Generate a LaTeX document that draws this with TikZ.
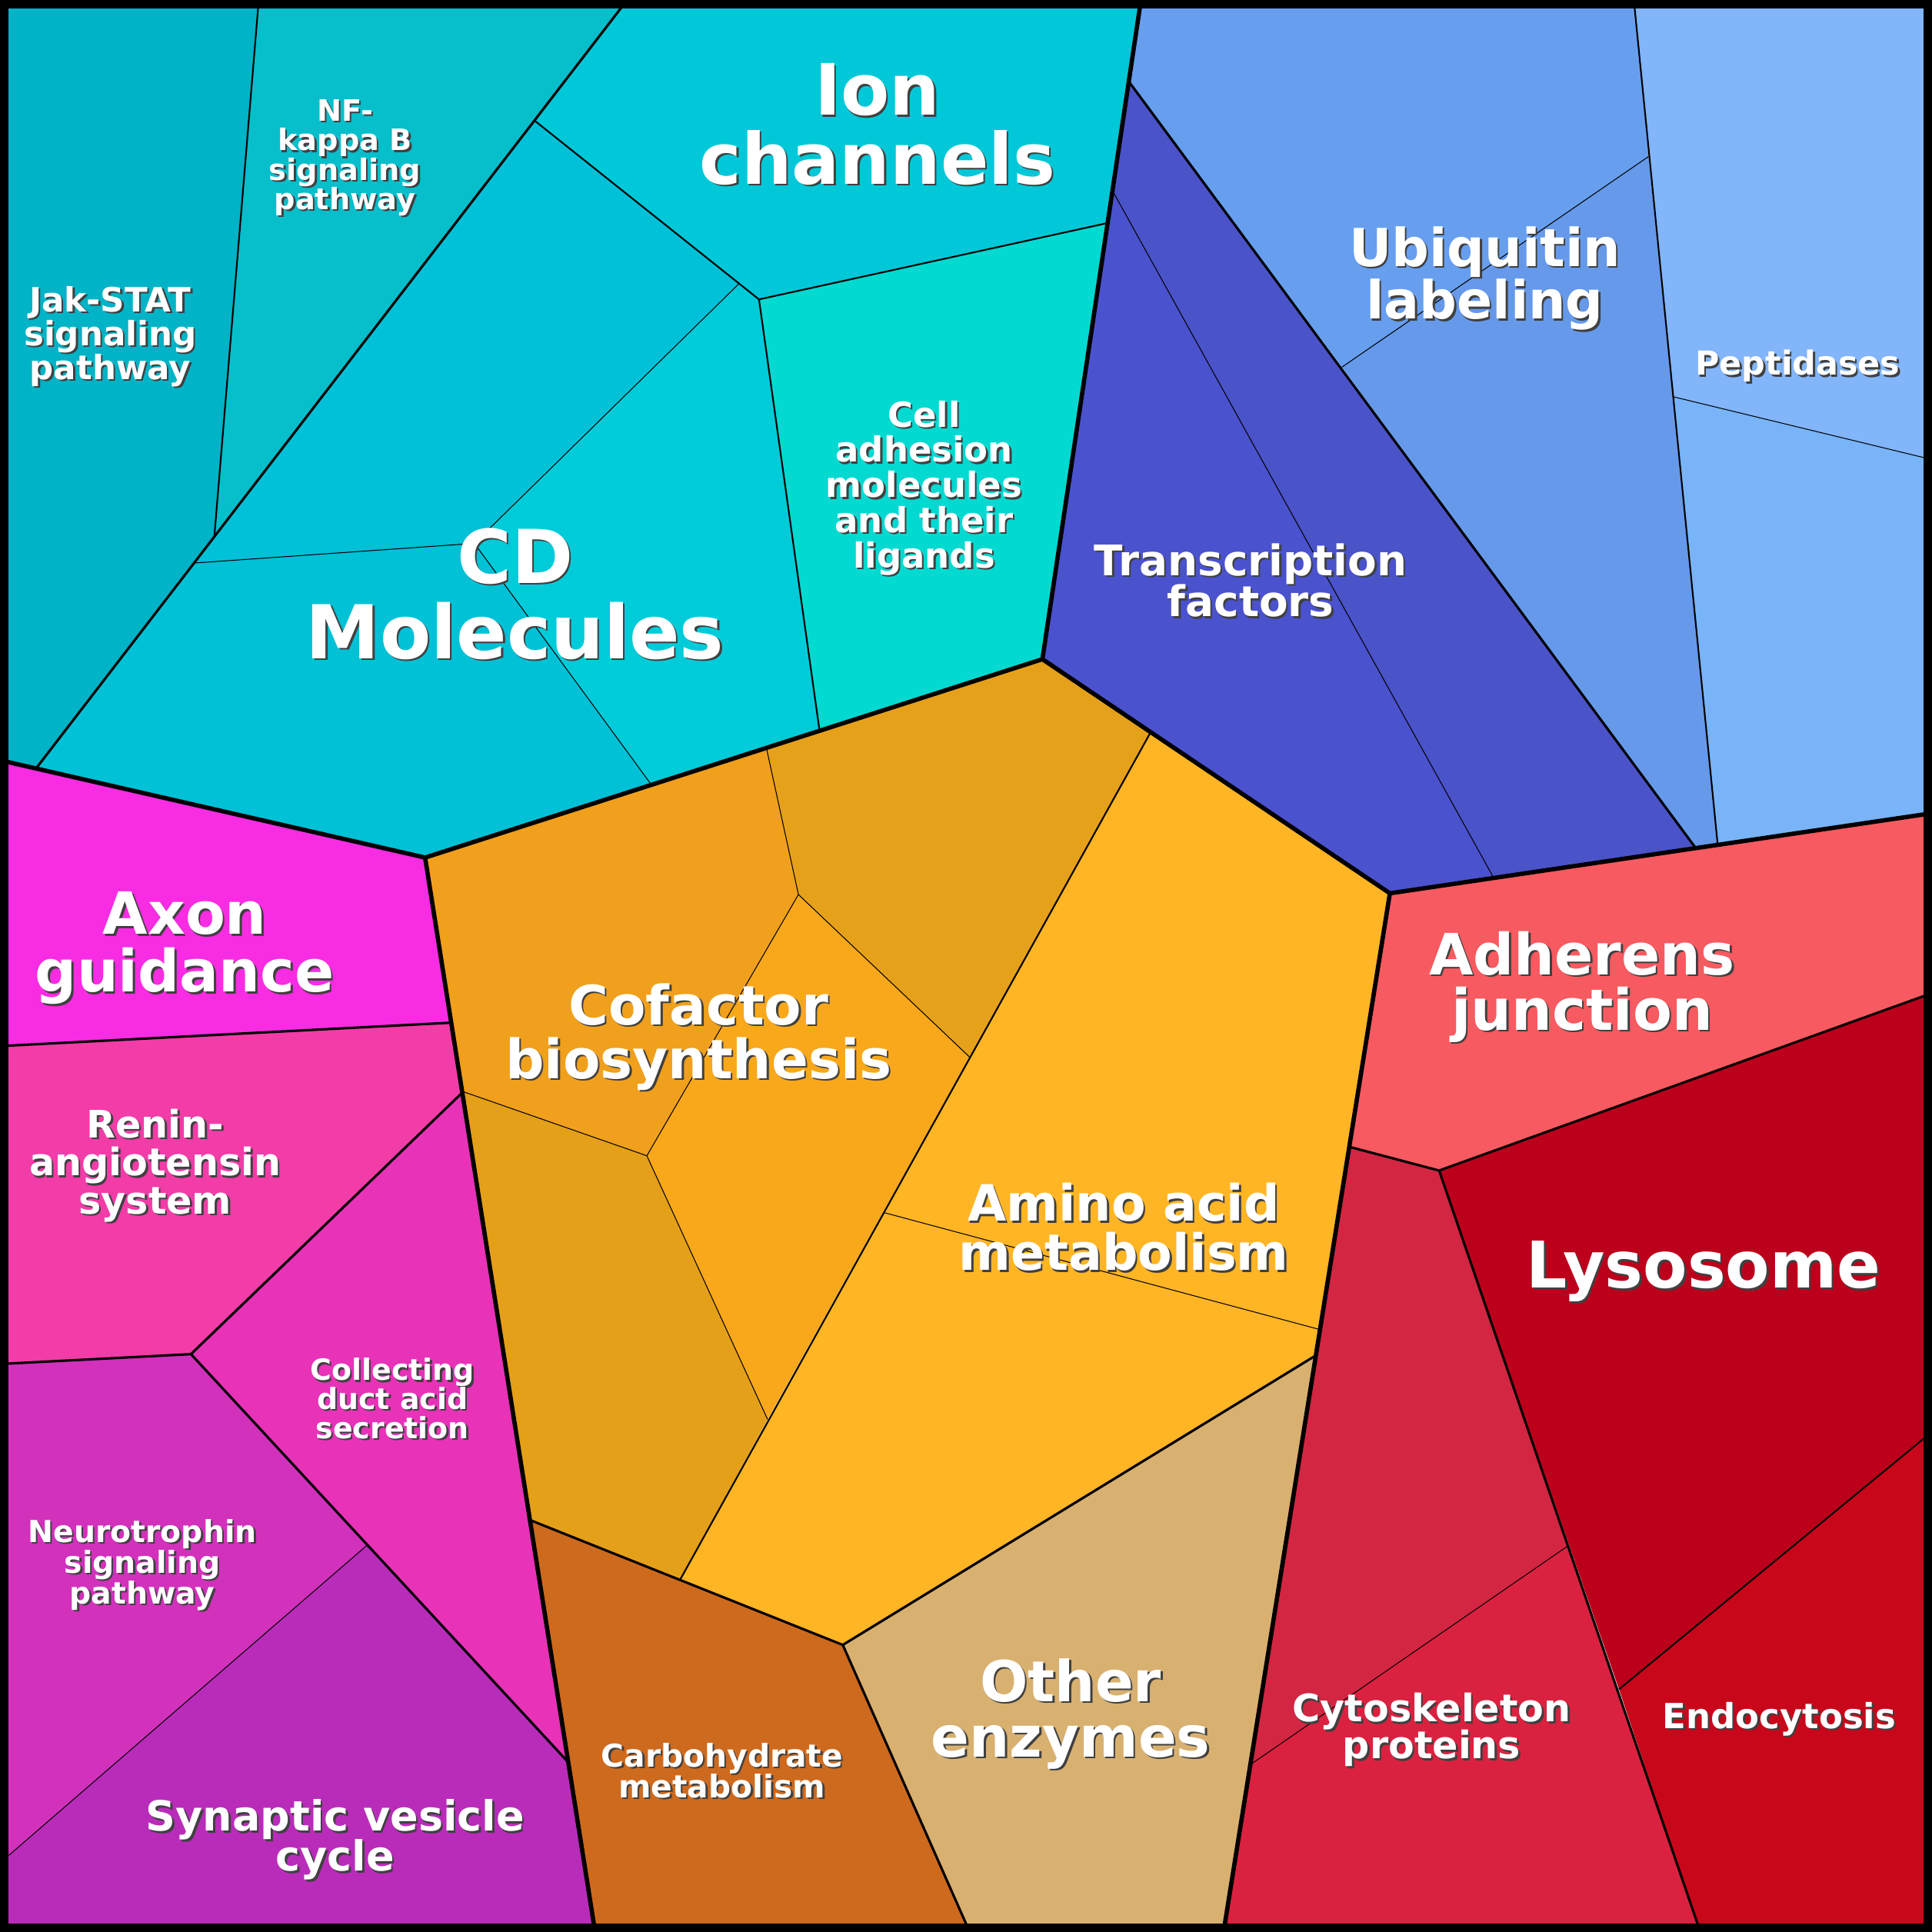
\documentclass[tikz,border=0pt]{standalone}
\usepackage{fontspec}
\setmainfont{DejaVu Sans}
% cell colours
\definecolor{jakstat}{HTML}{00B3C6}
\definecolor{nfkb}{HTML}{07BECB}
\definecolor{ionch}{HTML}{00C8D8}
\definecolor{cdA}{HTML}{00C1D7}
\definecolor{cdB}{HTML}{00CBD9}
\definecolor{cdC}{HTML}{00C1D6}
\definecolor{celladh}{HTML}{02D9D1}
\definecolor{tfA}{HTML}{4B52CD}
\definecolor{tfB}{HTML}{4A53C8}
\definecolor{ubqA}{HTML}{679FEE}
\definecolor{ubqB}{HTML}{6699E9}
\definecolor{pepA}{HTML}{82B5FA}
\definecolor{pepB}{HTML}{78B4F7}
\definecolor{adherens}{HTML}{F75A60}
\definecolor{lysosome}{HTML}{BC001C}
\definecolor{endocyt}{HTML}{C8071B}
\definecolor{cytoA}{HTML}{D22643}
\definecolor{cytoB}{HTML}{DA2240}
\definecolor{cofA}{HTML}{F0A01C}
\definecolor{cofB}{HTML}{E6A11A}
\definecolor{cofC}{HTML}{F8A81A}
\definecolor{cofD}{HTML}{E4A018}
\definecolor{amino}{HTML}{FFB524}
\definecolor{carbo}{HTML}{CE6A1E}
\definecolor{otherenz}{HTML}{D8B070}
\definecolor{axon}{HTML}{F82CE2}
\definecolor{renin}{HTML}{F23CA8}
\definecolor{collect}{HTML}{E832B8}
\definecolor{neuro}{HTML}{D231BC}
\definecolor{synaptic}{HTML}{B92CB9}

\newcommand\lblfont[2]{\fontsize{#1}{#2}\selectfont\bfseries\lineskiplimit=-100pt\relax}
\newcommand\celllabel[5]{%
  \node[lbl shadow, font=\lblfont{#3}{#4}] (#1-s) at (#2) {#5};
  \node[lbl, font=\lblfont{#3}{#4}] (#1) at (#2) {#5};}

\begin{document}
\begin{tikzpicture}[x=0.0160204cm, y=-0.0160204cm,
		lbl/.style={text=white, align=center, inner sep=0pt},
		lbl shadow/.style={lbl, text=black!75, xshift=0.7pt, yshift=-0.7pt},
		lvlA/.style={line width=1.6pt, line join=round},
		lvlB/.style={line width=0.9pt, line join=round},
		lvlC/.style={line width=0.6pt, line join=round},
		lvlD/.style={line width=0.3pt}]
	\useasboundingbox (0,0) rectangle (1568,1568);

	% teal group
	\fill[jakstat] (0,0) -- (210,0) -- (174,435) -- (157,457) -- (29,624) -- (0,617) -- cycle;
	\fill[nfkb] (210,0) -- (509,0) -- (434,98) -- (174,435) -- cycle;
	\fill[ionch] (509,0) -- (926,0) -- (899,181) -- (616,243) -- (600,230) -- (434,98) -- cycle;
	\fill[cdA] (434,98) -- (600,230) -- (385,441) -- (157,457) -- (174,435) -- cycle;
	\fill[cdB] (600,230) -- (616,243) -- (665,592) -- (528,636) -- (385,441) -- cycle;
	\fill[cdC] (157,457) -- (385,441) -- (528,636) -- (345,696) -- (29,624) -- cycle;
	\fill[celladh] (616,243) -- (899,181) -- (846,535) -- (665,592) -- cycle;

	% blue group
	\fill[tfA] (903,155) -- (1212,712) -- (1128,725) -- (846,535) -- cycle;
	\fill[tfB] (916,66) -- (1376,688) -- (1212,712) -- (903,155) -- cycle;
	\fill[ubqA] (926,0) -- (1326,0) -- (1338,127) -- (1089,298) -- (916,66) -- cycle;
	\fill[ubqB] (1338,127) -- (1394,685) -- (1376,688) -- (1089,298) -- cycle;
	\fill[pepA] (1326,0) -- (1568,0) -- (1568,373) -- (1358,322) -- cycle;
	\fill[pepB] (1358,322) -- (1568,373) -- (1568,660) -- (1394,685) -- cycle;

	% red group
	\fill[adherens] (1128,725) -- (1568,660) -- (1568,806) -- (1168,950) -- (1096,931) -- cycle;
	\fill[lysosome] (1168,950) -- (1568,806) -- (1568,1162) -- (1314,1371) -- cycle;
	\fill[endocyt] (1314,1371) -- (1568,1162) -- (1568,1568) -- (1380,1568) -- cycle;
	\fill[cytoA] (1096,931) -- (1168,950) -- (1272,1255) -- (1015,1432) -- cycle;
	\fill[cytoB] (1015,1432) -- (1272,1255) -- (1380,1568) -- (993,1568) -- cycle;

	% orange group
	\fill[cofA] (345,696) -- (622,607) -- (648,726) -- (525,938) -- (376,886) -- cycle;
	\fill[cofB] (622,607) -- (846,535) -- (934,594) -- (787,858) -- (648,726) -- cycle;
	\fill[cofC] (648,726) -- (787,858) -- (623,1152) -- (525,938) -- cycle;
	\fill[cofD] (376,886) -- (525,938) -- (623,1152) -- (552,1282) -- (431,1234) -- cycle;
	\fill[amino] (934,594) -- (1128,725) -- (1068,1100) -- (684,1335) -- (552,1282) -- cycle;
	\fill[carbo] (431,1234) -- (552,1282) -- (684,1335) -- (787,1568) -- (483,1568) -- cycle;
	\fill[otherenz] (684,1335) -- (1068,1100) -- (993,1568) -- (787,1568) -- cycle;

	% magenta group
	\fill[axon] (0,617) -- (345,696) -- (366,830) -- (0,849) -- cycle;
	\fill[renin] (0,849) -- (366,830) -- (376,886) -- (155,1099) -- (0,1107) -- cycle;
	\fill[collect] (376,886) -- (461,1430) -- (155,1099) -- cycle;
	\fill[neuro] (0,1107) -- (155,1099) -- (298,1254) -- (0,1512) -- cycle;
	\fill[synaptic] (298,1254) -- (461,1430) -- (483,1568) -- (0,1568) -- (0,1512) -- cycle;

	% borders, finest first
	\draw[lvlD] (157,457) -- (385,441) -- (600,230) (385,441) -- (528,636);
	\draw[lvlD] (903,155) -- (1212,712) (1338,127) -- (1089,298) (1358,322) -- (1568,373);
	\draw[lvlD] (622,607) -- (648,726) -- (787,858) (648,726) -- (525,938)
		(376,886) -- (525,938) -- (623,1152) (717,984) -- (1071,1079);
	\draw[lvlD] (1272,1255) -- (1015,1432) (298,1254) -- (0,1512);

	\draw[lvlC] (210,0) -- (174,435) (434,98) -- (616,243) -- (899,181) (616,243) -- (665,592);
	\draw[lvlC] (1326,0) -- (1394,685) (934,594) -- (552,1282) (1314,1371) -- (1568,1162);

	\draw[lvlB] (509,0) -- (29,624) (916,66) -- (1376,688);
	\draw[lvlB] (431,1234) -- (684,1335) -- (1068,1100) (684,1335) -- (787,1568);
	\draw[lvlB] (1096,931) -- (1168,950) -- (1568,806) (1168,950) -- (1380,1568);
	\draw[lvlB] (0,849) -- (366,830) (376,886) -- (155,1099) -- (461,1430) (0,1107) -- (155,1099);

	\draw[lvlA] (0,617) -- (345,696) -- (846,535) -- (926,0);
	\draw[lvlA] (846,535) -- (1128,725) -- (1568,660) (1128,725) -- (993,1568) (345,696) -- (483,1568);

	\draw[line width=3.2pt] (3.5,3.5) rectangle (1564.5,1564.5);

	% labels
	\celllabel{ion}{712,101}{26.2}{25.5}{Ion\\channels}
	\celllabel{cd}{418,482}{27.5}{27.8}{CD\\Molecules}
	\celllabel{celladh}{750,396}{12.8}{13}{Cell\\adhesion\\molecules\\and their\\ligands}
	\celllabel{jak}{89.5,273}{12.4}{12.5}{Jak-STAT\\signaling\\pathway}
	\celllabel{nfkb}{280,128}{10.9}{10.9}{NF-\\kappa B\\signaling\\pathway}
	\celllabel{tf}{1015,471}{15.6}{15.3}{Transcription\\factors}
	\celllabel{ubq}{1205,226}{19.4}{19.4}{Ubiquitin\\labeling}
	\celllabel{pep}{1459,297}{12.2}{12.2}{Peptidases}
	\celllabel{axon}{150,769.5}{21.5}{21.4}{Axon\\guidance}
	\celllabel{renin}{126,946}{14}{14.1}{Renin-\\angiotensin\\system}
	\celllabel{collect}{318.5,1135}{10.8}{10.7}{Collecting\\duct acid\\secretion}
	\celllabel{neuro}{115.5,1270}{11.2}{11.4}{Neurotrophin\\signaling\\pathway}
	\celllabel{synaptic}{272,1493}{15.35}{14.8}{Synaptic vesicle\\cycle}
	\celllabel{cof}{567,841.5}{20.1}{20}{Cofactor\\biosynthesis}
	\celllabel{amino}{912,996}{18.5}{18.2}{Amino acid\\metabolism}
	\celllabel{carbo}{586,1437}{11.6}{11.4}{Carbohydrate\\metabolism}
	\celllabel{other}{869,1391}{20.9}{20.5}{Other\\enzymes}
	\celllabel{adherens}{1284,801}{21.1}{20.5}{Adherens\\junction}
	\celllabel{lyso}{1382.5,1032}{23.8}{23.8}{Lysosome}
	\celllabel{cyto}{1162,1404}{14}{13.7}{Cytoskeleton\\proteins}
	\celllabel{endo}{1444,1395}{12.8}{12.8}{Endocytosis}
\end{tikzpicture}
\end{document}
